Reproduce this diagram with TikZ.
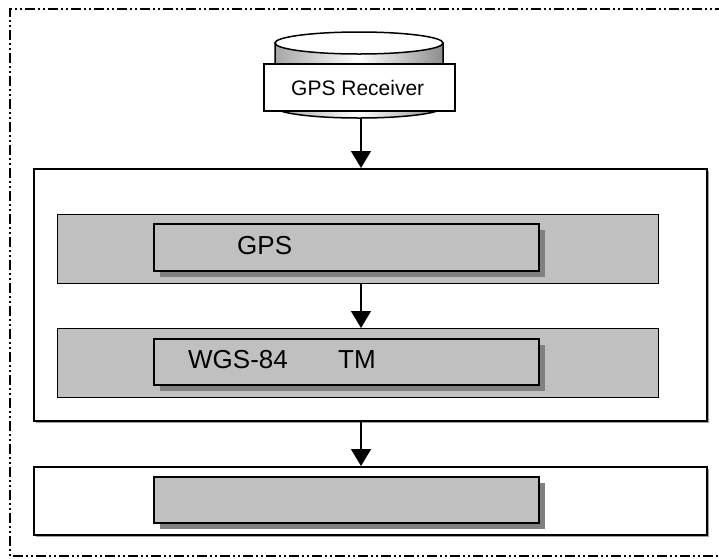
\documentclass[tikz,border=0pt]{standalone}
\usepackage{fontspec}
\setmainfont{Liberation Sans}
\usetikzlibrary{arrows.meta,shadows}
\definecolor{bandgray}{HTML}{C0C0C0}
\definecolor{shadowgray}{HTML}{808080}
\definecolor{edgegray}{HTML}{A0A0A0}
\begin{document}
\begin{tikzpicture}[x=1pt,y=1pt,
  frame/.style={draw, line width=2pt, dash pattern=on 10pt off 3pt on 2pt off 3pt on 2pt off 3pt},
  outerbox/.style={draw, line width=2pt, fill=white, inner sep=0pt, anchor=north west,
    drop shadow={shadow xshift=1.5pt, shadow yshift=-1.5pt, fill=edgegray, opacity=1}},
  band/.style={draw, line width=1.2pt, fill=bandgray, inner sep=0pt, anchor=north west},
  inbox/.style={draw, line width=2pt, fill=bandgray, inner sep=0pt, anchor=north west,
    drop shadow={shadow xshift=6pt, shadow yshift=-6pt, fill=shadowgray, opacity=1}},
  rxbox/.style={draw, line width=1.5pt, fill=white, inner sep=0pt, anchor=north west},
  lbl/.style={inner sep=0pt, anchor=base west, font=\fontsize{26}{30}\selectfont},
  arr/.style={line width=1.5pt, -{Triangle[width=20pt,length=17pt]}}
]
\useasboundingbox (0,0) rectangle (719,-558);

% dash-dot-dot frame, open on the right
\draw[frame] (725,-9) -- (10,-9) -- (10,-556) -- (725,-556);

% receiver drum
\node[inner sep=0pt, minimum width=168pt, minimum height=86pt, anchor=north west] (cyl) at (275,-32) {};
\shade[left color=shadowgray!70, right color=shadowgray!90, middle color=white, line width=1.5pt, draw=black]
  (275,-43) -- (275,-107) arc[start angle=180, end angle=360, x radius=84pt, y radius=11pt]
  -- (443,-43) -- cycle;
\draw[line width=1.5pt, fill=white] (359,-43) ellipse[x radius=84pt, y radius=11pt];
\node[rxbox, minimum width=191pt, minimum height=47pt] (rx) at (263,-63) {};
\node[inner sep=0pt, anchor=base west, font=\fontsize{21}{25}\selectfont] (trx) at (291,-95) {GPS Receiver};

% processing block
\node[outerbox, minimum width=673pt, minimum height=252pt] (box1) at (33,-168) {};
\node[band, minimum width=601pt, minimum height=69pt] (band1) at (57,-214) {};
\node[inbox, minimum width=385pt, minimum height=47pt] (in1) at (153,-223) {};
\node[lbl] (tgps) at (237,-254) {GPS};
\node[band, minimum width=601pt, minimum height=69pt] (band2) at (57,-328) {};
\node[inbox, minimum width=385pt, minimum height=46pt] (in2) at (153,-338) {};
\node[lbl] (twgs) at (188,-368) {WGS-84};
\node[lbl] (ttm) at (338,-368) {TM};

% output block
\node[outerbox, minimum width=673pt, minimum height=68pt] (box2) at (33,-466) {};
\node[inbox, minimum width=385pt, minimum height=46pt] (in3) at (153,-476) {};

% connectors
\coordinate (ax) at (361,0);
\draw[arr] (cyl.south -| ax) -- (box1.north -| ax);
\draw[arr] (band1.south -| ax) -- (band2.north -| ax);
\draw[arr] (box1.south -| ax) -- (box2.north -| ax);
\end{tikzpicture}
\end{document}
